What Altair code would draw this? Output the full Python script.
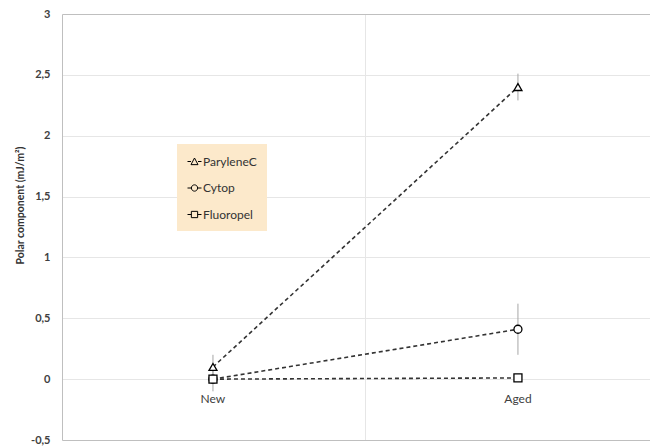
import altair as alt
import pandas as pd

categories = ["New", "Aged"]
series_names = ["ParyleneC", "Cytop", "Fluoropel"]
parylene = [0.10, 2.40]
cytop = [0.00, 0.41]
fluoropel = [0.00, 0.01]
parylene_err = [0.10, 0.11]
cytop_err = [0.10, 0.21]
fluoropel_err = [0.00, 0.00]
y_ticks = [-0.5, 0, 0.5, 1, 1.5, 2, 2.5, 3]

rows = []
for s, vals, errs in zip(series_names, [parylene, cytop, fluoropel],
                         [parylene_err, cytop_err, fluoropel_err]):
    for i, (c, v, e) in enumerate(zip(categories, vals, errs)):
        rows.append(dict(series=s, cat=c, idx=i, value=v, lo=v - e, hi=v + e))
df = pd.DataFrame(rows)
cat_df = pd.DataFrame({"cat": categories, "idx": list(range(len(categories))), "zero": [0] * len(categories)})

W, H = 588, 426
FONT = "Lato"

x_scale = alt.Scale(domain=[-0.495, 1.433], nice=False, zero=False)
y_scale = alt.Scale(domain=[-0.5, 3], nice=False, zero=False)

x_axis = alt.Axis(values=[0.5], labels=False, ticks=False, domain=False, grid=True,
                  gridColor="#e6e6e6", title=None)
y_axis = alt.Axis(
    values=y_ticks,
    labelExpr="replace(toString(datum.value), '.', ',')",
    ticks=False, domain=True, domainColor="#bfbfbf",
    grid=True,
    gridColor={"condition": {"test": "datum.value === 3 || datum.value === -0.5", "value": "#bfbfbf"},
               "value": "#e6e6e6"},
    labelPadding=12, labelFont=FONT, labelFontSize=11, labelFontWeight="bold", labelColor="#404040",
    title="Polar component (mJ/m²)", titleFont=FONT, titleFontSize=10.5, titleFontWeight="bold",
    titleColor="#333333", titleX=-37, titleY=191, titleAngle=270, titleAlign="center",
    titleBaseline="bottom",
)

X = alt.X("idx:Q", scale=x_scale, axis=x_axis)

base = alt.Chart(df)

errbars = base.mark_rule(color="#a6a6a6", strokeWidth=1).encode(
    x=X,
    y=alt.Y("lo:Q", scale=y_scale, axis=y_axis),
    y2="hi:Q",
)

lines = base.mark_line(color="#333333", strokeWidth=1.6, strokeDash=[4, 3]).encode(
    x=X,
    y=alt.Y("value:Q", scale=y_scale, axis=y_axis),
    detail="series:N",
    order="idx:Q",
)

shape_plain = alt.Scale(domain=series_names, range=["triangle-up", "circle", "square"])
points = base.mark_point(filled=True, fill="white", stroke="black", strokeWidth=1.3, size=64,
                         opacity=1).encode(
    x=X,
    y=alt.Y("value:Q", scale=y_scale, axis=y_axis),
    shape=alt.Shape("series:N", scale=shape_plain, legend=None),
)

tri = "M-1,0L-0.5,0M0.5,0L1,0M-0.5,0.45L0,-0.5L0.5,0.45Z"
circ = "M-1,0L-0.45,0M0.45,0L1,0M-0.45,0A0.45,0.45,0,1,1,0.45,0A0.45,0.45,0,1,1,-0.45,0Z"
sq = "M-1,0L-0.45,0M0.45,0L1,0M-0.45,-0.45L0.45,-0.45L0.45,0.45L-0.45,0.45Z"
shape_legend = alt.Scale(domain=series_names, range=[tri, circ, sq])

legend_layer = base.mark_point(filled=False, color="black", strokeWidth=1,
                               size=196, opacity=0).encode(
    x=X,
    y=alt.Y("value:Q", scale=y_scale, axis=y_axis),
    shape=alt.Shape("series:N", scale=shape_legend, legend=alt.Legend(
        title=None, orient="none", legendX=115, legendY=130,
        fillColor="#fce9cb", padding=10, rowPadding=12.5,
        symbolSize=196, symbolOpacity=1, symbolFillColor="transparent",
        symbolStrokeColor="black", symbolStrokeWidth=1,
        labelFont=FONT, labelFontSize=12, labelColor="#333333", labelOffset=1,
    )),
)

cat_labels = alt.Chart(cat_df).mark_text(font=FONT, fontSize=12, color="#404040", dy=20,
                                         baseline="middle").encode(
    x=X,
    y=alt.Y("zero:Q", scale=y_scale, axis=y_axis),
    text="cat:N",
)

chart = alt.layer(errbars, lines, points, legend_layer, cat_labels).resolve_scale(
    shape="independent"
).properties(
    width=W, height=H,
    autosize=alt.AutoSizeParams(type="none"),
    padding={"left": 54, "top": 6, "right": 0, "bottom": 6},
    background="white",
).configure_view(stroke=None)

chart.save("out.html", embed_options={"renderer": "svg", "actions": False})
